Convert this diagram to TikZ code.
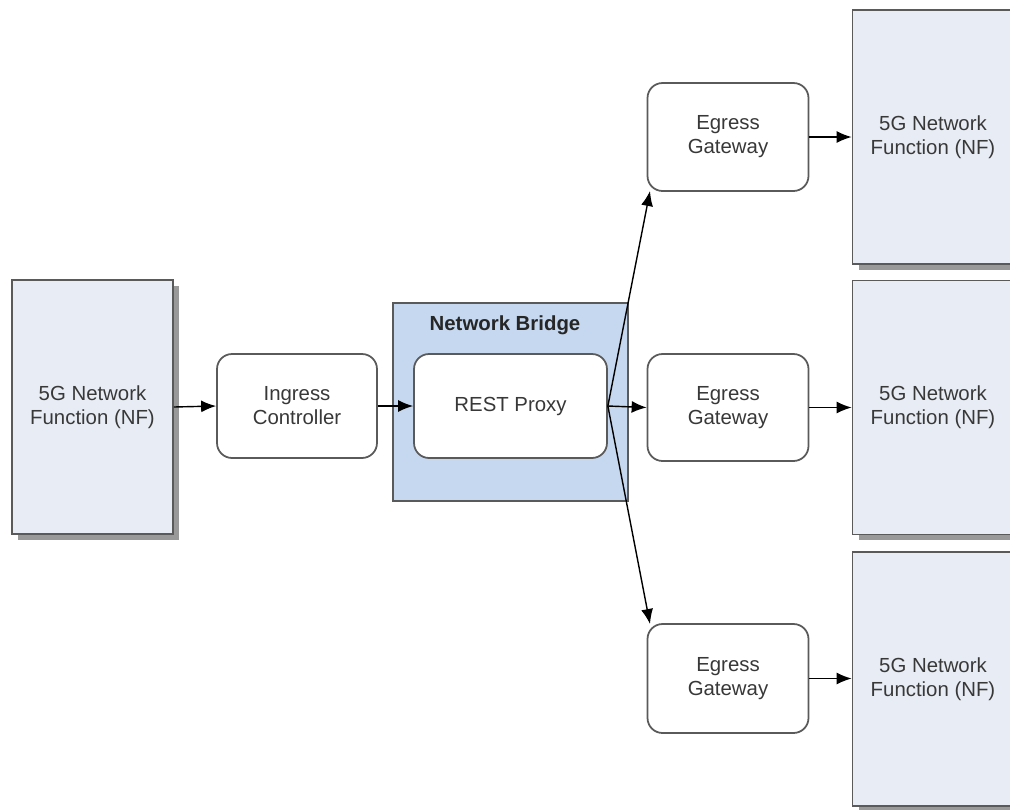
\documentclass[tikz,border=0pt]{standalone}
\usepackage{fontspec}
\setmainfont{Liberation Sans}
\usepackage{xcolor}
\usepackage{tikz}
\usetikzlibrary{positioning, shapes, calc, arrows.meta, shadows}
\definecolor{nfblue}{HTML}{E8EDF5}
\definecolor{bridgeblue}{HTML}{C6D8EF}
\definecolor{boxline}{HTML}{5A5A5A}
\definecolor{txtgray}{HTML}{383838}

\begin{document}
\begin{tikzpicture}[x=0.02cm, y=-0.02cm, every node/.style={font=\fontsize{11.6}{13.6}\selectfont, text=txtgray, align=center}]
		\tikzstyle{nfbox}=[draw=boxline, line width=1pt, minimum width=3.22cm, minimum height=5.08cm, fill=nfblue, drop shadow={opacity=1, fill=black!40, shadow xshift=0.12cm, shadow yshift=-0.12cm}]
		\tikzstyle{gwbox}=[draw=boxline, line width=1pt, rounded corners=0.3cm, minimum width=3.22cm, minimum height=2.14cm, fill=white]
		\tikzstyle{bridge}=[draw=boxline, line width=1pt, minimum width=4.7cm, minimum height=3.96cm, fill=bridgeblue]
		\tikzstyle{flow}=[-{Latex[length=3mm, width=2.4mm]}, line width=0.8pt, black]
		
		\clip (0,0) rectangle (1010,809);
		
		%% left side
		\node [nfbox] (NF0) at (92.5,407) {5G Network\\Function (NF)};
		\node [gwbox, minimum width=3.2cm, minimum height=2.08cm] (ING) at (297,406) {Ingress\\Controller};
		
		%% network bridge
		\node [bridge] (NB) at (510.5,402) {};
		\node [font=\fontsize{11.6}{13.6}\selectfont\bfseries, text=black!85] (NBT) at (505,325) {Network Bridge};
		\node [gwbox, minimum width=3.86cm, minimum height=2.08cm] (REST) at (510.5,406) {REST Proxy};
		
		%% egress gateways
		\node [gwbox, minimum height=2.16cm] (EG1) at (728,137) {Egress\\Gateway};
		\node [gwbox] (EG2) at (728,407.5) {Egress\\Gateway};
		\node [gwbox, minimum height=2.18cm] (EG3) at (728,678.5) {Egress\\Gateway};
		
		%% right side
		\node [nfbox] (NF1) at (933,137) {5G Network\\Function (NF)};
		\node [nfbox] (NF2) at (933,407.5) {5G Network\\Function (NF)};
		\node [nfbox] (NF3) at (933,679) {5G Network\\Function (NF)};
		
		\coordinate (C1) at (650,191);
		\coordinate (C3) at (650,624);
		
		\draw [flow] (NF0.east) -- (ING.west);
		\draw [flow] (ING.east) -- (REST.west);
		\draw [flow] (REST.east) -- (EG2.west);
		\draw [flow] (REST.east) -- (C1);
		\draw [flow] (REST.east) -- (C3);
		
		\draw [flow] (EG1.east) -- (EG1.east -| NF1.west);
		\draw [flow] (EG2.east) -- (EG2.east -| NF2.west);
		\draw [flow] (EG3.east) -- (EG3.east -| NF3.west);
		
		\end{tikzpicture}
\end{document}
